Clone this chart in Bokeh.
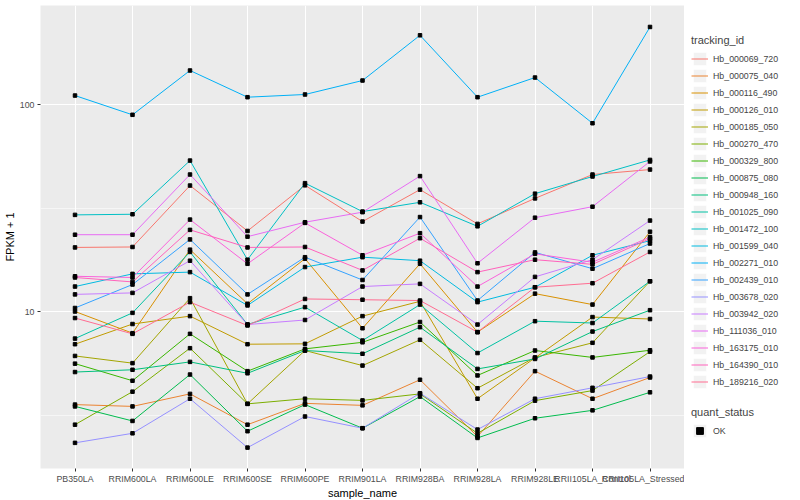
from bokeh.plotting import figure
from bokeh.layouts import row
from bokeh.models import (ColumnDataSource, FactorRange, Range1d, FixedTicker,
                          Legend, LegendItem, BasicTickFormatter)
from bokeh.embed import file_html
from bokeh.resources import INLINE

samples = ["PB350LA", "RRIM600LA", "RRIM600LE", "RRIM600SE", "RRIM600PE",
           "RRIM901LA", "RRIM928BA", "RRIM928LA", "RRIM928LE",
           "RRII105LA_Control", "RRII105LA_Stressed"]

tracking_ids = ["Hb_000069_720", "Hb_000075_040", "Hb_000116_490", "Hb_000126_010",
                "Hb_000185_050", "Hb_000270_470", "Hb_000329_800", "Hb_000875_080",
                "Hb_000948_160", "Hb_001025_090", "Hb_001472_100", "Hb_001599_040",
                "Hb_002271_010", "Hb_002439_010", "Hb_003678_020", "Hb_003942_020",
                "Hb_111036_010", "Hb_163175_010", "Hb_164390_010", "Hb_189216_020"]

colors = ["#F8766D", "#EA8331", "#D89000", "#C09B00", "#A3A500", "#7CAE00", "#39B600",
          "#00BB4E", "#00BF7D", "#00C1A3", "#00BFC4", "#00BAE0", "#00B0F6", "#35A2FF",
          "#9590FF", "#C77CFF", "#E76BF3", "#FA62DB", "#FF62BC", "#FF6C91"]

# FPKM + 1 per sample, in the order of `samples`
hb_000069_720 = [20.4, 20.5, 40.6, 24.5, 40.7, 27.2, 38.8, 26.5, 35.2, 45.9, 48.5]
hb_000075_040 = [3.55, 3.48, 4.0, 2.84, 3.6, 3.52, 4.68, 2.49, 5.15, 3.79, 4.8]
hb_000116_490 = [10.0, 7.86, 19.9, 10.9, 18.0, 8.3, 17.0, 7.95, 12.2, 10.8, 24.3]
hb_000126_010 = [6.95, 8.7, 9.5, 6.95, 6.98, 9.5, 11.2, 3.79, 5.97, 9.4, 9.2]
hb_000185_050 = [6.1, 5.63, 11.6, 3.58, 6.48, 5.48, 7.3, 4.26, 6.0, 7.06, 14.0]
hb_000270_470 = [2.84, 4.1, 6.65, 3.58, 3.79, 3.72, 4.0, 2.58, 3.71, 4.15, 6.4]
hb_000329_800 = [5.6, 4.63, 7.8, 5.15, 6.6, 7.1, 8.9, 4.91, 6.48, 6.0, 6.5]
hb_000875_080 = [3.48, 2.96, 4.96, 2.64, 3.55, 2.73, 3.88, 2.45, 3.05, 3.33, 4.07]
hb_000948_160 = [5.1, 5.23, 5.71, 5.03, 6.48, 6.25, 8.4, 5.28, 5.9, 8.0, 10.15]
hb_001025_090 = [7.4, 9.85, 19.4, 8.66, 10.5, 7.24, 10.8, 6.3, 8.98, 8.8, 14.0]
hb_001472_100 = [29.3, 29.5, 53.6, 17.8, 41.7, 30.4, 33.7, 25.8, 37.1, 44.9, 54.0]
hb_001599_040 = [13.2, 15.2, 15.5, 10.7, 16.4, 18.3, 17.6, 11.1, 13.1, 18.7, 22.0]
hb_002271_010 = [110.5, 89.2, 146.0, 108.5, 111.8, 130.6, 216.0, 108.5, 135.0, 81.2, 237.0]
hb_002439_010 = [10.4, 13.5, 22.3, 12.1, 18.3, 14.2, 28.6, 11.3, 19.3, 16.1, 21.3]
hb_003678_020 = [2.32, 2.58, 3.79, 2.2, 3.11, 2.73, 4.03, 2.69, 3.79, 4.28, 4.85]
hb_003942_020 = [12.1, 12.3, 17.6, 8.65, 9.1, 13.2, 13.6, 8.65, 14.7, 17.8, 27.5]
hb_111036_010 = [23.5, 23.5, 45.9, 23.0, 27.0, 30.2, 45.1, 17.1, 28.4, 32.1, 53.1]
hb_163175_010 = [14.8, 14.6, 27.8, 17.0, 26.8, 18.7, 23.9, 13.2, 19.0, 17.3, 22.9]
hb_164390_010 = [14.6, 13.9, 24.8, 20.4, 20.5, 15.8, 22.6, 15.5, 17.8, 16.9, 22.5]
hb_189216_020 = [9.3, 7.8, 11.1, 8.56, 11.5, 11.4, 11.3, 7.95, 13.1, 13.7, 19.4]

series_values = [hb_000069_720, hb_000075_040, hb_000116_490, hb_000126_010,
                 hb_000185_050, hb_000270_470, hb_000329_800, hb_000875_080,
                 hb_000948_160, hb_001025_090, hb_001472_100, hb_001599_040,
                 hb_002271_010, hb_002439_010, hb_003678_020, hb_003942_020,
                 hb_111036_010, hb_163175_010, hb_164390_010, hb_189216_020]

quant_status = ["OK"]

y_major = [10, 100]
y_minor = [10 ** 0.5, 10 ** 1.5, 10 ** 2.5]

FONT = "Liberation Sans"
TOTAL_H = 498

p = figure(x_range=FactorRange(*samples, range_padding=0.1, range_padding_units="absolute"),
           y_axis_type="log", y_range=Range1d(1.744, 300.9),
           frame_width=644, frame_height=463,
           output_backend="svg", toolbar_location=None,
           min_border_left=40, min_border_right=0, min_border_top=5, min_border_bottom=0,
           background_fill_color="#EBEBEB", border_fill_color="white",
           outline_line_color=None)

# grid
p.xgrid.grid_line_color = "white"
p.xgrid.grid_line_width = 1.1
p.ygrid.grid_line_color = "white"
p.ygrid.grid_line_width = 1.1
p.ygrid.minor_grid_line_color = "white"
p.ygrid.minor_grid_line_width = 0.55

p.yaxis.ticker = FixedTicker(ticks=y_major, minor_ticks=y_minor)
p.yaxis.formatter = BasicTickFormatter()

for ax in (p.xaxis[0], p.yaxis[0]):
    ax.axis_line_color = None
    ax.major_tick_line_color = "#333333"
    ax.major_tick_out = 3
    ax.major_tick_in = 0
    ax.minor_tick_line_color = None
    ax.major_label_text_color = "#4D4D4D"
    ax.major_label_text_font = FONT
    ax.major_label_text_font_size = "8.8px"
    ax.major_label_standoff = 2
    ax.axis_label_text_font = FONT
    ax.axis_label_text_font_size = "11px"
    ax.axis_label_text_font_style = "normal"
    ax.axis_label_text_color = "black"

p.xaxis.axis_label = "sample_name"
p.xaxis.axis_label_standoff = 0
p.yaxis.axis_label = "FPKM + 1"
p.yaxis.axis_label_standoff = 1

sources = []
for col, vals in zip(colors, series_values):
    src = ColumnDataSource(dict(x=samples, y=vals))
    sources.append(src)
    p.line("x", "y", source=src, line_color=col, line_width=1)

for src in sources:
    p.scatter("x", "y", source=src, marker="square", size=3.5,
              fill_color="black", line_color="black")

# ---- legend panel: a canvas to the right whose view range shows none of the data,
# so its renderers only supply the legend glyphs ----
lg = figure(width=116, height=TOTAL_H,
            x_range=FactorRange(*samples), y_range=Range1d(10000, 20000),
            x_axis_location=None, y_axis_location=None,
            output_backend="svg", toolbar_location=None,
            min_border_left=0, min_border_right=0, min_border_top=0, min_border_bottom=0,
            background_fill_color="white", border_fill_color="white",
            outline_line_color=None)
lg.grid.visible = False

key_bg = lg.rect("x", "y", width=0.9, height=1, source=sources[0],
                 fill_color="#F2F2F2", line_color="white")
items = []
for tid, col, src in zip(tracking_ids, colors, sources):
    r = lg.line("x", "y", source=src, line_color=col, line_width=1)
    items.append(LegendItem(label=tid, renderers=[key_bg, r]))
pt = lg.scatter("x", "y", source=sources[0], marker="square",
                fill_color="black", line_color="black")

common = dict(title_text_font=FONT, title_text_font_size="11px", title_text_font_style="normal",
              title_standoff=4, label_text_font=FONT, label_text_font_size="8.8px",
              glyph_height=17, glyph_width=17, label_height=17, spacing=0, padding=4,
              margin=0, border_line_color=None, background_fill_alpha=0, label_standoff=5)

leg1 = Legend(items=items, title="tracking_id", location=(7, 75), **common)
leg2 = Legend(items=[LegendItem(label=quant_status[0], renderers=[key_bg, pt])],
              title="quant_status", location=(7, 26), **common)
lg.add_layout(leg1)
lg.add_layout(leg2)

layout = row(p, lg)
open("out.html", "w").write(file_html(layout, INLINE))
